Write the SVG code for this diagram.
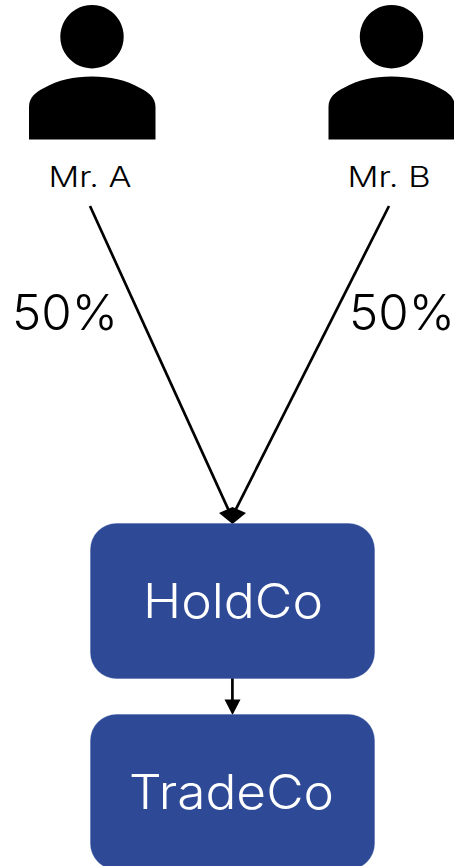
<svg xmlns="http://www.w3.org/2000/svg" width="454" height="866" viewBox="0 0 454 866">
<style>
text{font-family:"Inter","Lato","Liberation Sans",sans-serif;font-weight:300}
.p{fill:#000}
.b{fill:#2e4a97;stroke:#3a55a0;stroke-width:.4}
.w{fill:#fff;font-size:48px}
.l{fill:#000;font-size:29px}
.n{fill:#000;font-size:49px}
.c{stroke:#000;stroke-width:2.700;fill:none}
</style>
<defs>
<path id="person" d="M92 5a31.700 31.700 0 1 1-.01 0ZM29 139.500V107C29 97 36 92 44 88C58 80 74 76.500 92 76.500C110 76.500 126 80 140 88C148 92 155.500 97 155.500 107V139.500Z"/>
</defs>
<g id="connectors">
<path class="c" d="M90 206L229 511"/>
<path class="c" d="M389 206L235 511"/>
<path class="p" d="M219 513L232.500 507L246 513L232.500 524Z"/>
<path class="c" d="M232.400 678V700"/>
<path class="p" d="M224.500 699.500H240.500L232.500 715Z"/>
</g>
<g id="mr-a"><use class="p" href="#person"/><text class="l" x="48.500" y="187" textLength="83" lengthAdjust="spacingAndGlyphs">Mr. A</text></g>
<g id="mr-b"><use class="p" href="#person" x="299.500"/><text class="l" x="347.500" y="187" textLength="83" lengthAdjust="spacingAndGlyphs">Mr. B</text></g>
<g id="pct-a"><text class="n" x="12" y="330" textLength="106" lengthAdjust="spacingAndGlyphs">50%</text></g>
<g id="pct-b"><text class="n" x="349" y="330" textLength="106" lengthAdjust="spacingAndGlyphs">50%</text></g>
<g id="holdco"><rect class="b" x="90.500" y="523.500" width="284" height="155" rx="26"/><text class="w" x="143" y="618" textLength="180" lengthAdjust="spacingAndGlyphs">HoldCo</text></g>
<g id="tradeco"><rect class="b" x="90.500" y="714.500" width="284" height="155" rx="26"/><text class="w" x="129" y="809" textLength="205" lengthAdjust="spacingAndGlyphs">TradeCo</text></g>
</svg>
